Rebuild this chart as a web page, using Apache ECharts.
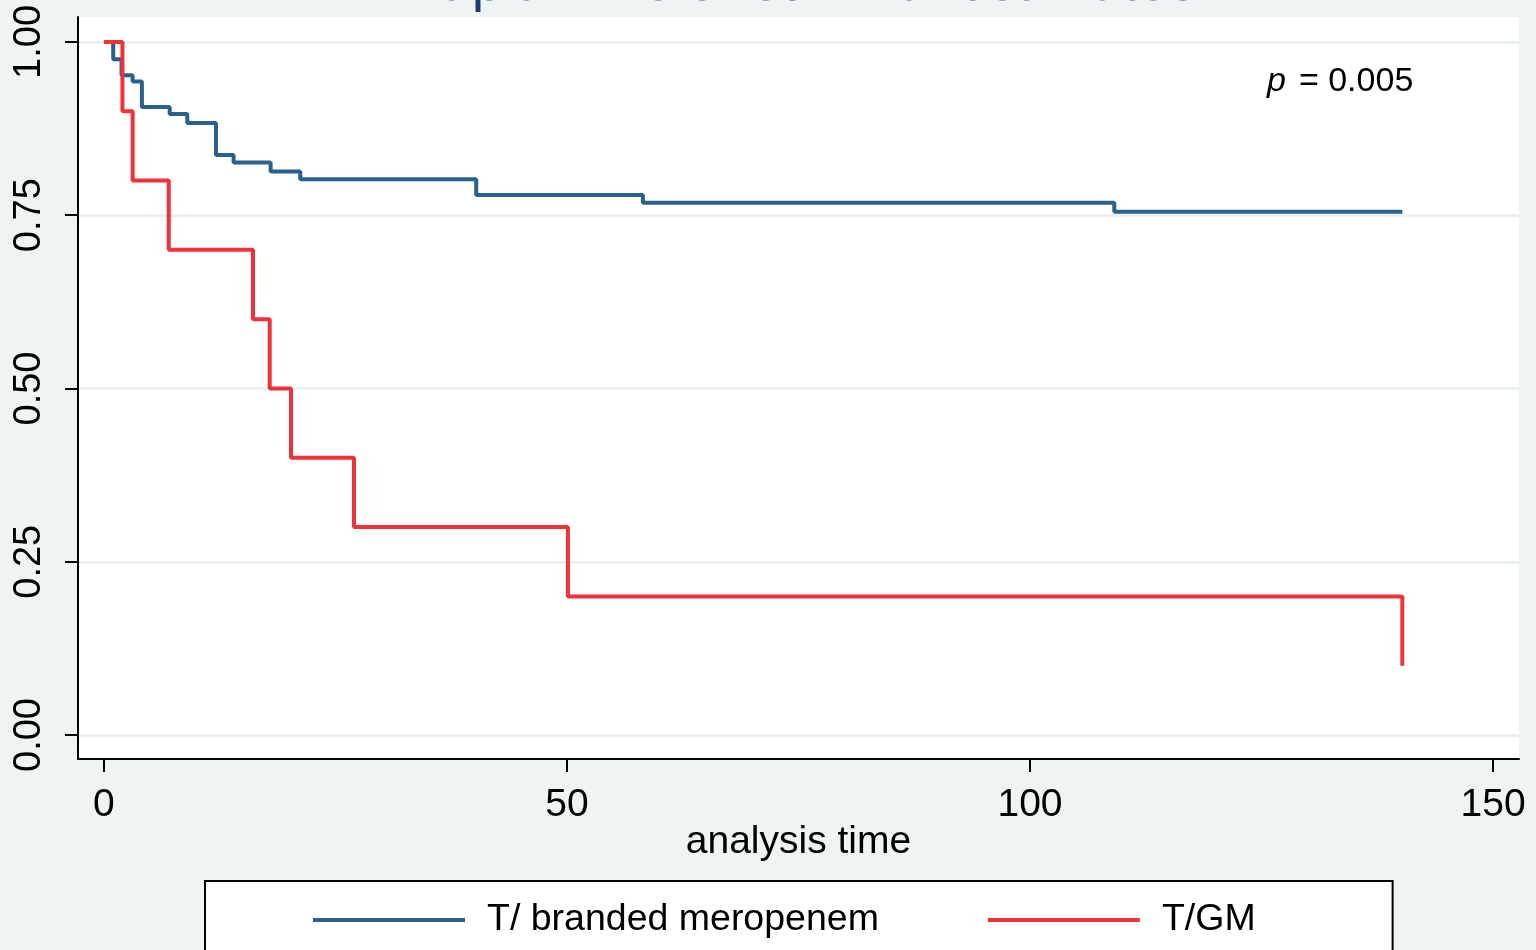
<!DOCTYPE html>
<html>
<head>
<meta charset="utf-8">
<script src="https://cdn.jsdelivr.net/npm/echarts@6/dist/echarts.min.js"></script>
<style>
html, body { margin: 0; padding: 0; background: #eef3f4; }
#chart { width: 1536px; height: 950px; }
</style>
</head>
<body>
<div id="chart"></div>
<script>
// Kaplan-Meier step points
const timesBranded = [0, 1.0, 1.9, 3.1, 4.1, 7.1, 9.0, 12.1, 14.0, 18.0, 21.2, 40.2, 58.2, 109.1, 140.2]
const survBranded = [1, 0.975, 0.952, 0.943, 0.906, 0.896, 0.883, 0.837, 0.826, 0.813, 0.802, 0.779, 0.768, 0.755, 0.755]
const timesGM = [0, 2.0, 3.1, 7.0, 16.1, 17.9, 20.2, 27.0, 50.1, 140.2]
const survGM = [1, 0.9, 0.8, 0.7, 0.6, 0.5, 0.4, 0.3, 0.2, 0.1]

const xTicks = [0, 50, 100, 150]
const yTicks = [0, 0.25, 0.5, 0.75, 1]
const seriesNames = ['T/ branded meropenem', 'T/GM']

const font = 'Liberation Sans, Arial, Helvetica, sans-serif'

function pairs(xs, ys) {
    return xs.map((x, i) => [x, ys[i]])
}

let myChart = echarts.init(document.getElementById('chart'))
let option = {
    animation: false,
    backgroundColor: '#eef3f4',
    color: ['#2a608c', '#ee3238'],
    title: [
        {
            text: 'Kaplan-Meier survival estimates',
            left: 795,
            textAlign: 'center',
            top: -48,
            textStyle: { color: '#1e3a6e', fontSize: 56, fontWeight: 'normal', fontFamily: font }
        },
        {
            text: '{i|p}= 0.005',
            left: 1262,
            top: 60,
            textStyle: {
                color: '#000', fontSize: 34, fontWeight: 'normal', fontFamily: font,
                rich: { i: { fontStyle: 'italic', fontSize: 34, fontFamily: font, color: '#000', padding: [0, 13, 0, 0] } }
            }
        }
    ],
    grid: {
        left: 78, right: 17, top: 17, bottom: 191,
        show: true, backgroundColor: '#fff', borderWidth: 0
    },
    legend: {
        data: seriesNames,
        left: 205,
        top: 881,
        orient: 'horizontal',
        backgroundColor: '#fff',
        borderColor: '#000',
        borderWidth: 2,
        borderRadius: 0,
        padding: [20, 137, 40, 108],
        itemGap: 109,
        itemWidth: 152,
        itemHeight: 4,
        icon: 'rect',
        textStyle: { color: '#000', fontSize: 37.5, fontFamily: font, padding: [0, 0, 0, 17] }
    },
    xAxis: {
        type: 'value',
        min: -2.8,
        max: 152.8,
        name: 'analysis time',
        nameLocation: 'middle',
        nameGap: 64,
        nameMoveOverlap: false,
        nameTextStyle: { color: '#000', fontSize: 39, fontFamily: font },
        axisLine: { show: true, onZero: false, lineStyle: { color: '#000', width: 2 } },
        axisTick: { show: true, length: 13, lineStyle: { color: '#000', width: 2 }, customValues: xTicks },
        axisLabel: { color: '#000', fontSize: 39, fontFamily: font, margin: 27, customValues: xTicks },
        splitLine: { show: false }
    },
    yAxis: {
        type: 'value',
        min: -0.0346,
        max: 1.036,
        axisLine: { show: true, onZero: false, lineStyle: { color: '#000', width: 2 } },
        axisTick: { show: true, length: 13, lineStyle: { color: '#000', width: 2 }, customValues: yTicks },
        axisLabel: {
            color: '#000', fontSize: 38, fontFamily: font, margin: 29, rotate: 90,
            customValues: yTicks,
            formatter: v => v.toFixed(2)
        },
        splitLine: { show: true, lineStyle: { color: '#eaf0f1', width: 3 } }
    },
    series: [
        {
            name: seriesNames[0],
            type: 'line',
            step: 'end',
            symbol: 'none',
            lineStyle: { width: 4 },
            data: pairs(timesBranded, survBranded)
        },
        {
            name: seriesNames[1],
            type: 'line',
            step: 'end',
            symbol: 'none',
            lineStyle: { width: 4 },
            data: pairs(timesGM, survGM)
        }
    ]
}
myChart.setOption(option)
</script>
</body>
</html>
